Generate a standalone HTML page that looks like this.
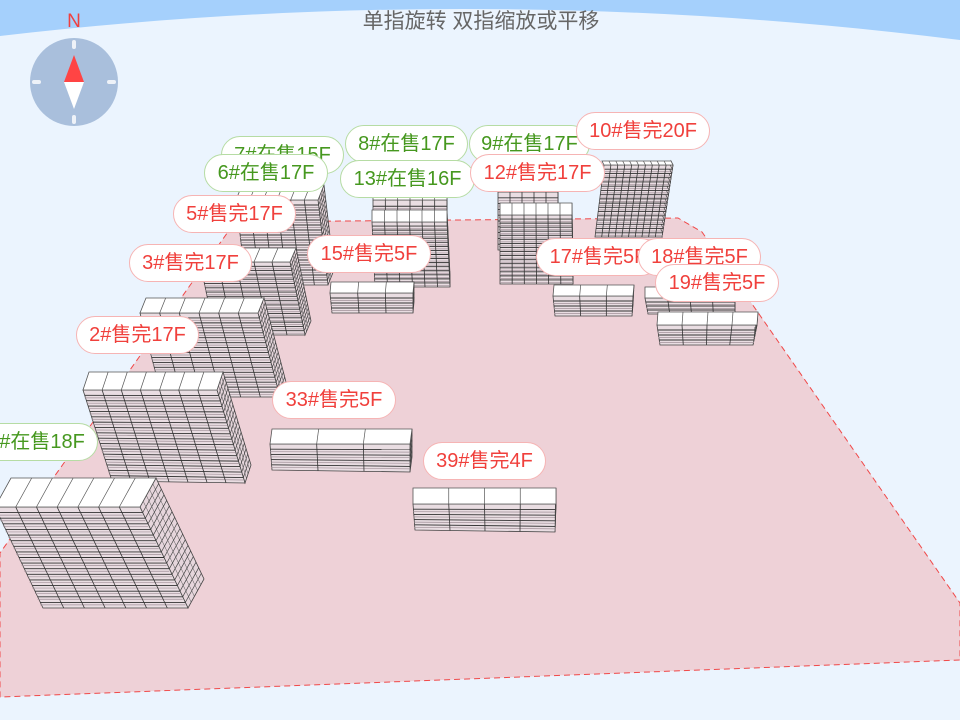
<!DOCTYPE html>
<html><head><meta charset="utf-8">
<style>
html,body{margin:0;padding:0;width:960px;height:720px;overflow:hidden;background:#ebf4fe;font-family:"Liberation Sans","Noto Sans CJK SC",sans-serif;}
svg{position:absolute;left:0;top:0}
.lb{position:absolute;height:38px;line-height:37px;border-radius:19px;background:#fff;font-size:20px;text-align:center;box-sizing:border-box;white-space:nowrap;font-family:"Liberation Sans","Noto Sans CJK SC",sans-serif;}
.r{color:#f0403c;border:1px solid #f6b4b4}
.g{color:#46981f;border:1px solid #b6dca4}
</style></head><body>
<svg id="s" width="960" height="720" viewBox="0 0 960 720">
<path d="M0 0 H960 V40 Q480 -20 0 36 Z" fill="#a5d0fc"/>
<polygon points="235,222 678,218 702,232 960,603 960,660 0,697 0,553" fill="#eed1d7" stroke="#f04848" stroke-width="1" stroke-dasharray="6,4"/>
<text x="481" y="28" text-anchor="middle" font-size="21" fill="#666" font-family="Liberation Sans, Noto Sans CJK SC, sans-serif">单指旋转 双指缩放或平移</text>
<text x="74" y="27" text-anchor="middle" font-size="19" fill="#f04040" font-family="Liberation Sans, sans-serif">N</text>
<circle cx="74" cy="82" r="44" fill="#a9bfdc"/>
<g stroke="#eef2f8" stroke-width="4" stroke-linecap="round">
<line x1="74" y1="42" x2="74" y2="47"/><line x1="74" y1="117" x2="74" y2="122"/>
<line x1="34" y1="82" x2="39" y2="82"/><line x1="109" y1="82" x2="114" y2="82"/>
</g>
<polygon points="74,55 64,82 84,82" fill="#f44"/>
<polygon points="74,109 64,82 84,82" fill="#fff"/>
<g id="b"></g>
</svg>
<div id="labels"></div>
<script>
var g=document.getElementById('b'),h='';
function P(a){return a.map(function(p){return p[0].toFixed(1)+','+p[1].toFixed(1)}).join(' ')}
function L(a,b,t){return [a[0]+(b[0]-a[0])*t,a[1]+(b[1]-a[1])*t]}
function add(p,d){return [p[0]+d[0],p[1]+d[1]]}
function bld(TL,TR,BR,BL,d,fl,cols,scols){
 var TB=add(TL,d),TRb=add(TR,d),BRb=add(BR,d);
 h+='<polygon points="'+P([TR,TRb,BRb,BR])+'" fill="#e6d6dc" stroke="#444" stroke-width="0.8"/>';
 h+='<polygon points="'+P([TL,TR,BR,BL])+'" fill="#e9dde2" stroke="#444" stroke-width="0.8"/>';
 for(var i=1;i<fl;i++){var t=i/fl;var a=L(TL,BL,t),b=L(TR,BR,t),c=L(TRb,BRb,t);
  h+='<line x1="'+a[0]+'" y1="'+a[1]+'" x2="'+b[0]+'" y2="'+b[1]+'" stroke="#333" stroke-width="0.9"/>';
  h+='<line x1="'+a[0]+'" y1="'+(a[1]+2.5)+'" x2="'+b[0]+'" y2="'+(b[1]+2.5)+'" stroke="#a09098" stroke-width="0.7"/>';
  h+='<line x1="'+b[0]+'" y1="'+b[1]+'" x2="'+c[0]+'" y2="'+c[1]+'" stroke="#444" stroke-width="0.7"/>';}
 for(var j=1;j<cols;j++){var t=j/cols;var a=L(TL,TR,t),b=L(BL,BR,t);
  h+='<line x1="'+a[0]+'" y1="'+a[1]+'" x2="'+b[0]+'" y2="'+b[1]+'" stroke="#333" stroke-width="0.8"/>';}
 for(var k=1;k<scols;k++){var t=k/scols;var a=L(TR,TRb,t),b=L(BR,BRb,t);
  h+='<line x1="'+a[0]+'" y1="'+a[1]+'" x2="'+b[0]+'" y2="'+b[1]+'" stroke="#555" stroke-width="0.5"/>';}
 h+='<polygon points="'+P([TL,TR,TRb,TB])+'" fill="#fff" stroke="#555" stroke-width="0.8"/>';
 for(var j=1;j<cols;j++){var a=L(TL,TR,j/cols),e=add(a,d);h+='<line x1="'+a[0]+'" y1="'+a[1]+'" x2="'+e[0]+'" y2="'+e[1]+'" stroke="#555" stroke-width="0.7"/>';}
}
bld([604,165],[673,165],[662,237],[595,237],[-2,-4],17,10,1);
bld([498,192],[558,192],[558,250],[498,250],[0,-6],10,5,1);
bld([373,200],[447,200],[447,250],[373,250],[0,-6],8,6,1);
bld([236,200],[318,200],[328,285],[246,285],[6,-15],17,6,4);
bld([500,215],[572,215],[573,284],[500,284],[0,-12],17,6,1);
bld([372,222],[447,222],[450,287],[375,287],[0,-12],16,6,1);
bld([200,262],[290,262],[305,335],[215,335],[6,-14],17,5,4);
bld([645,298],[735,298],[735,314],[648,314],[0,-11],4,4,1);
bld([553,296],[633,296],[632,316],[555,316],[1,-11],4,3,1);
bld([330,293],[413,293],[413,313],[332,313],[1,-11],4,3,1);
bld([140,313],[258,313],[280,397],[162,397],[6,-15],17,6,4);
bld([657,325],[757,325],[753,345],[660,345],[1,-13],4,4,1);
bld([83,390],[217,390],[245,483],[112,481],[6,-18],17,7,4);
bld([270,444],[410,444],[410,472],[272,470],[2,-15],5,3,1);
bld([413,504],[556,504],[555,532],[415,530],[0,-16],5,4,1);
bld([-5,507],[140,507],[188,608],[43,608],[16,-29],18,7,5);
g.innerHTML=h;
var lab=[
['7#在售15F','g',221,136,123],['8#在售17F','g',345,125,123],['9#在售17F','g',469,125,121],
['10#售完20F','r',576,112,134],['6#在售17F','g',204,154,124],['13#在售16F','g',340,160,135],
['12#售完17F','r',470,154,135],['5#售完17F','r',173,195,123],['15#售完5F','r',307,235,124],
['17#售完5F','r',536,238,124],['18#售完5F','r',638,238,123],['19#售完5F','r',655,264,124],
['3#售完17F','r',129,244,123],['2#售完17F','r',76,316,123],['33#售完5F','r',272,381,124],
['39#售完4F','r',423,442,123],['1#在售18F','g',-25,423,123]];
var s='';lab.forEach(function(l){s+='<div class="lb '+l[1]+'" style="left:'+l[2]+'px;top:'+l[3]+'px;width:'+l[4]+'px">'+l[0]+'</div>';});
document.getElementById('labels').innerHTML=s;
</script>
</body></html>
